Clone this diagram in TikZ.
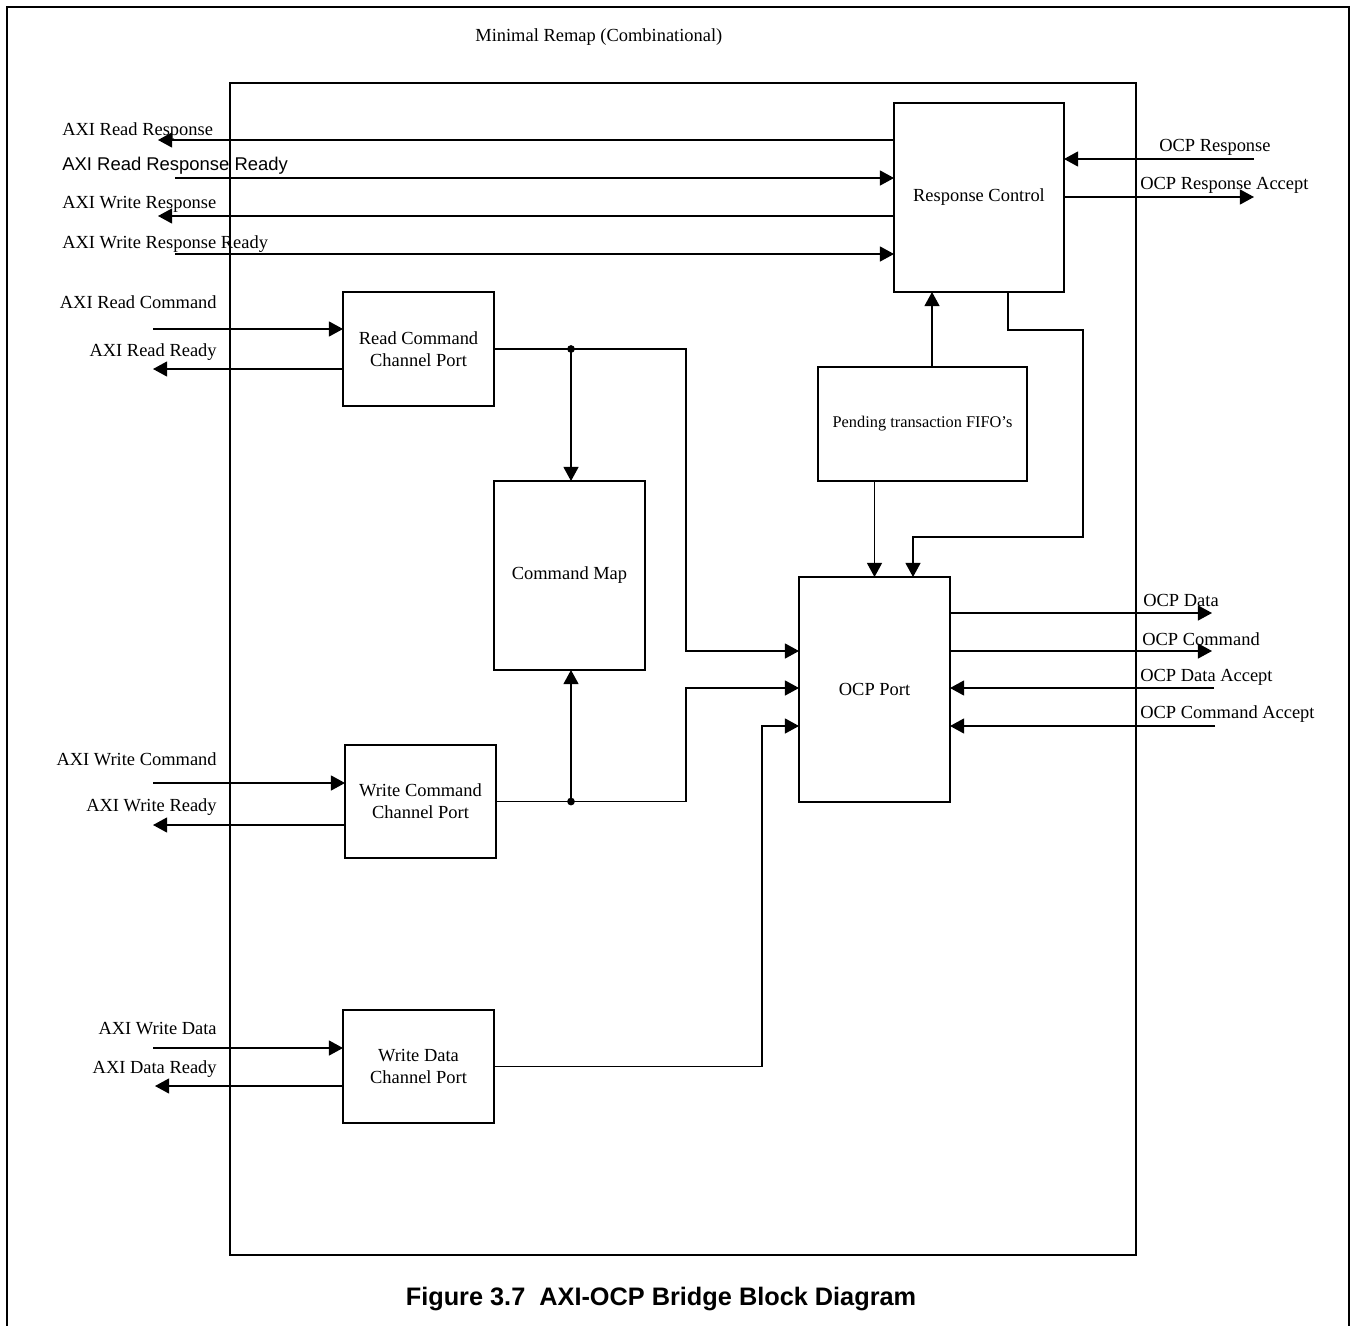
\documentclass[tikz,border=0pt]{standalone}
\usepackage{fontspec}
\setmainfont{Liberation Serif}
\newfontfamily\arial{Liberation Sans}
\usetikzlibrary{arrows.meta}
\tikzset{
  blk/.style={draw, line width=0.8pt, inner sep=0pt, outer sep=0pt, align=center, font=\fontsize{10.5}{12.5}\selectfont},
  sig/.style={line width=0.8pt, -{Triangle[length=8pt,width=8.5pt]}},
  wire/.style={line width=0.8pt},
  lbl/.style={inner sep=0pt, font=\fontsize{10.5}{12.5}\selectfont},
  slbl/.style={inner sep=0pt, font=\arial\fontsize{10.5}{12.5}\selectfont}
}
\begin{document}
\begin{tikzpicture}[x=0.02cm,y=-0.02cm]
\useasboundingbox (0,0) rectangle (1351,1325);
\draw[line width=0.6pt] (7,1330) -- (7,7) -- (1349,7) -- (1349,1330);
\draw[line width=0.8pt] (230,83) rectangle (1136,1255);
\node[lbl, anchor=west] (title) at (475,37) {Minimal Remap (Combinational)};
\node[inner sep=0pt, font=\arial\bfseries\fontsize{14.4}{16}\selectfont] (cap) at (661,1299) {Figure 3.7\ \ AXI-OCP Bridge Block Diagram};

\node[blk, minimum width=3.4cm, minimum height=3.78cm] (rc) at (979,197.5) {Response Control};
\node[blk, minimum width=3.02cm, minimum height=2.28cm] (rcp) at (418.5,349) {Read Command\\ Channel Port};
\node[blk, minimum width=3.02cm, minimum height=3.78cm] (cmap) at (569.5,575.5) {Command Map};
\node[blk, minimum width=3.02cm, minimum height=2.26cm] (wcp) at (420.5,801.5) {Write Command\\ Channel Port};
\node[blk, minimum width=3.02cm, minimum height=2.26cm] (wdp) at (418.5,1066.5) {Write Data\\Channel Port};
\node[blk, minimum width=4.18cm, minimum height=2.28cm, font=\fontsize{9.3}{11}\selectfont] (fifo) at (922.5,424) {Pending transaction FIFO’s};
\node[blk, minimum width=3.02cm, minimum height=4.5cm] (ocp) at (874.5,689.5) {OCP Port};

\coordinate (arsp) at (158,140);
\coordinate (arrdy) at (175,178);
\coordinate (awsp) at (158,216);
\coordinate (awrdy) at (175,254);
\coordinate (arcmd) at (153,329);
\coordinate (ardy) at (153,369);
\coordinate (awcmd) at (153,783);
\coordinate (awr) at (153,825);
\coordinate (awdat) at (153,1048);
\coordinate (adrdy) at (155,1086);
\coordinate (orsp) at (1254,159);
\coordinate (orsa) at (1254,197);
\coordinate (odat) at (1212,613);
\coordinate (ocmd) at (1212,651);
\coordinate (odacc) at (1214,688);
\coordinate (ocacc) at (1215,726);
\coordinate (jr) at (571,349);
\coordinate (jw) at (571,801.5);

\node[lbl, anchor=west] (larsp) at (62,131) {AXI Read Response};
\node[slbl, anchor=west] (larrdy) at (62,166) {AXI Read Response Ready};
\node[lbl, anchor=west] (lawsp) at (62,204) {AXI Write Response};
\node[lbl, anchor=west] (lawrdy) at (62,244) {AXI Write Response Ready};
\node[lbl, anchor=east] (larcmd) at (217,302) {AXI Read Command};
\node[lbl, anchor=east] (lardy) at (217,352) {AXI Read Ready};
\node[lbl, anchor=east] (lawcmd) at (217,759) {AXI Write Command};
\node[lbl, anchor=east] (lawr) at (217,807) {AXI Write Ready};
\node[lbl, anchor=east] (lawdat) at (217,1029) {AXI Write Data};
\node[lbl, anchor=east] (ladrdy) at (217,1069) {AXI Data Ready};
\node[lbl, anchor=west] (lorsp) at (1159,147) {OCP Response};
\node[lbl, anchor=west] (lorsa) at (1140,185) {OCP Response Accept};
\node[lbl, anchor=west] (lodat) at (1143,600) {OCP Data};
\node[lbl, anchor=west] (locmd) at (1142,639) {OCP Command};
\node[lbl, anchor=west] (lodacc) at (1140,677) {OCP Data Accept};
\node[lbl, anchor=west] (locacc) at (1140,714) {OCP Command Accept};

\draw[sig] (rc.west |- arsp) -- (arsp);
\draw[sig] (arrdy) -- (arrdy -| rc.west);
\draw[sig] (rc.west |- awsp) -- (awsp);
\draw[sig] (awrdy) -- (awrdy -| rc.west);
\draw[sig] (orsp) -- (orsp -| rc.east);
\draw[sig] (rc.east |- orsa) -- (orsa);

\draw[sig] (arcmd) -- (arcmd -| rcp.west);
\draw[sig] (rcp.west |- ardy) -- (ardy);
\draw[sig] (awcmd) -- (awcmd -| wcp.west);
\draw[sig] (wcp.west |- awr) -- (awr);
\draw[sig] (awdat) -- (awdat -| wdp.west);
\draw[sig] (wdp.west |- adrdy) -- (adrdy);

\draw[sig] (ocp.east |- odat) -- (odat);
\draw[sig] (ocp.east |- ocmd) -- (ocmd);
\draw[sig] (odacc) -- (odacc -| ocp.east);
\draw[sig] (ocacc) -- (ocacc -| ocp.east);

\draw[sig] (rcp.east) -- (686,349) |- (ocp.west |- 0,651);
\draw[sig] (wcp.east) -- (686,801.5) |- (ocp.west |- 0,688);
\draw[sig] (wdp.east) -- (762,1066.5) |- (ocp.west |- 0,726);
\draw[sig] (jr) -- (jr |- cmap.north);
\draw[sig] (jw) -- (jw |- cmap.south);
\fill (jr) circle (2.2pt);
\fill (jw) circle (2.2pt);

\draw[sig] (fifo.north -| 932,0) -- (rc.south -| 932,0);
\draw[sig] (fifo.south -| ocp.north) -- (ocp.north);
\draw[sig] (rc.south -| 1008,0) -- (1008,330) -- (1083,330) -- (1083,537) -- (913,537) -- (ocp.north -| 913,0);
\end{tikzpicture}
\end{document}
